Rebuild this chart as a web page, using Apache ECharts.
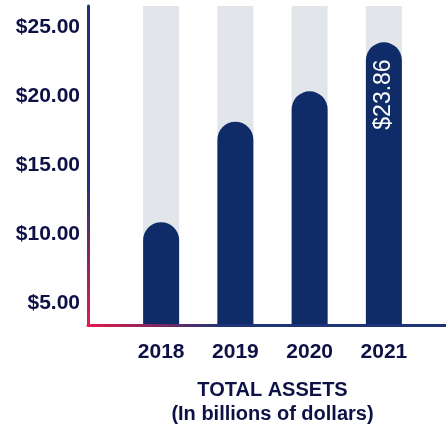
<!DOCTYPE html>
<html>
<head>
<meta charset="utf-8">
<script src="https://cdn.jsdelivr.net/npm/echarts@6/dist/echarts.min.js"></script>
<style>
	html, body { margin: 0; padding: 0; background: #fff; }
	#main { width: 446px; height: 431px; }
</style>
</head>
<body>
<div id="main"></div>
<script>
var years = ['2018', '2019', '2020', '2021']
var assets = [10.8, 18.1, 20.3, 23.86]
var yTicks = [5, 10, 15, 20, 25]
var yMin = 3.4, yMax = 26.5

var navy = '#0f2c69'
var lineNavy = '#1d3577'
var textColor = '#0d1145'
var red = '#e8194b'
var font = '"Liberation Sans", Arial, sans-serif'

function money(v) {
	return '$' + Number(v).toFixed(2)
}

var myChart = echarts.init(document.getElementById('main'))

var barData = assets.map(function (v, i) {
	// only the last bar carries its value label
	if (i !== assets.length - 1) return v
	return {
		value: v,
		label: {
			show: true,
			position: 'insideTop',
			rotate: 90,
			align: 'right',
			verticalAlign: 'middle',
			distance: 17,
			color: '#fff',
			fontFamily: font,
			fontSize: 23,
			formatter: function (p) { return money(p.value) }
		}
	}
})

var option = {
	animation: false,
	grid: [
		// frame: axis lines
		{ left: 88, right: 0, top: 6, bottom: 106 },
		// bars
		{ left: 124, right: 25, top: 6, bottom: 106 }
	],
	xAxis: [{
		gridIndex: 0,
		type: 'category',
		data: [],
		axisLine: {
			lineStyle: {
				width: 3,
				color: {
					type: 'linear', x: 0, y: 0, x2: 1, y2: 0,
					colorStops: [
						{ offset: 0, color: red },
						{ offset: 0.38, color: lineNavy },
						{ offset: 1, color: lineNavy }
					]
				}
			}
		},
		axisTick: { show: false },
		axisLabel: { show: false }
	}, {
		gridIndex: 1,
		type: 'category',
		data: years,
		axisLine: { show: false },
		axisTick: { show: false },
		axisLabel: {
			margin: 18,
			color: textColor,
			fontFamily: font,
			fontWeight: 'bold',
			fontSize: 21
		},
		name: 'TOTAL ASSETS\n(In billions of dollars)',
		nameLocation: 'middle',
		nameGap: 54,
		nameTextStyle: {
			color: textColor,
			fontFamily: font,
			fontWeight: 'bold',
			fontSize: 20,
			lineHeight: 24
		}
	}],
	yAxis: [{
		gridIndex: 0,
		type: 'value',
		min: yMin,
		max: yMax,
		axisLine: {
			show: true,
			lineStyle: {
				width: 3,
				color: {
					type: 'linear', x: 0, y: 0, x2: 0, y2: 1,
					colorStops: [
						{ offset: 0, color: lineNavy },
						{ offset: 0.55, color: lineNavy },
						{ offset: 1, color: red }
					]
				}
			}
		},
		axisTick: { show: false },
		splitLine: { show: false },
		axisLabel: {
			customValues: yTicks,
			margin: 8,
			color: textColor,
			fontFamily: font,
			fontWeight: 'bold',
			fontSize: 21,
			formatter: money
		}
	}, {
		gridIndex: 1,
		type: 'value',
		min: yMin,
		max: yMax,
		show: false
	}],
	series: [{
		type: 'bar',
		xAxisIndex: 1,
		yAxisIndex: 1,
		barWidth: 36,
		data: barData,
		showBackground: true,
		backgroundStyle: { color: '#e2e5e9' },
		itemStyle: {
			color: navy,
			borderRadius: [18, 18, 0, 0]
		}
	}]
}
myChart.setOption(option)
</script>
</body>
</html>
